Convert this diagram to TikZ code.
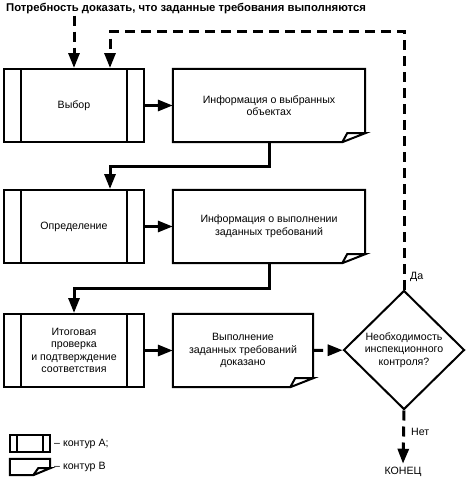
\documentclass[tikz,border=0pt]{standalone}
\usepackage{fontspec}
\setmainfont{Liberation Sans}
\usepackage{tikz}
\usetikzlibrary{positioning, arrows.meta}
\usetikzlibrary{shapes.geometric}

\tikzset{
  outl/.style={line width=2pt, line join=miter},
  conn/.style={line width=3pt, -{Triangle[length=15pt, width=11pt]}},
  dconn/.style={conn, dash pattern=on 10pt off 6pt},
  boxA/.style={draw, outl, minimum width=140pt, minimum height=73pt, inner sep=0pt, align=center,
    path picture={\draw[outl] ([xshift=#1]path picture bounding box.north west) -- ([xshift=#1]path picture bounding box.south west)
      ([xshift=-#1]path picture bounding box.north east) -- ([xshift=-#1]path picture bounding box.south east);}},
  boxA/.default=17pt,
  boxB/.style={minimum width=192pt, minimum height=73pt, inner sep=0pt, align=center},
  decide/.style={draw, outl, diamond, aspect=1, minimum width=121pt, minimum height=119pt, inner sep=0pt, align=center},
  lbl/.style={inner sep=1pt, anchor=west},
}

% outline of a box with a curled corner
\newcommand{\curlbox}[3]{%
  \draw[outl] ([yshift=#3]#1.south east) -- (#1.north east) -- (#1.north west) -- (#1.south west)
    -- ([xshift=-#2]#1.south east) -- ([yshift=#3]#1.south east)
    -- ([xshift=-#2+5pt, yshift=#3]#1.south east) -- ([xshift=-#2]#1.south east);}

\begin{document}
\begin{tikzpicture}[x=1pt, y=-1pt, font=\fontsize{10.6}{12.5}\selectfont]
  \useasboundingbox (0,0) rectangle (468,482);

  \node[lbl, font=\fontsize{11.3}{13}\selectfont\bfseries] (need) at (5,9) {Потребность доказать, что заданные требования выполняются};

  \node[boxA] (a1) at (74,105.5) {Выбор};
  \node[boxB] (i1) at (269,105.5) {Информация о выбранных\\объектах};
  \curlbox{i1}{23pt}{9pt}
  \node[boxA] (a2) at (74,226.5) {Определение};
  \node[boxB] (i2) at (269,226.5) {Информация о выполнении\\заданных требований};
  \curlbox{i2}{23pt}{9pt}
  \node[boxA] (a3) at (74,350.5) {Итоговая\\проверка\\и подтверждение\\соответствия};
  \node[boxB, minimum width=140pt] (i3) at (243,350.5) {Выполнение\\заданных требований\\доказано};
  \curlbox{i3}{23pt}{9pt}
  \node[decide] (dec) at (404,350) {Необходимость\\инспекционного\\контроля?};
  \node (end) at (403,472) {КОНЕЦ};
  \node[lbl] (yes) at (409,277) {Да};
  \node[lbl] (no) at (410,432) {Нет};
  \coordinate (fbtop) at (404,31);

  % legend
  \node[boxA=7pt, minimum width=40pt, minimum height=17pt] (legA) at (30,443.5) {};
  \node[lbl] (legAt) at (53,443.5) {– контур А;};
  \node[boxB, minimum width=40pt, minimum height=16pt] (legB) at (30,467) {};
  \curlbox{legB}{17pt}{7pt}
  \node[lbl] (legBt) at (53,467) {– контур В};

  \draw[dconn] (a1.north |- need.south) -- (a1.north);
  \draw[dconn] (dec.north) -- (fbtop) -| ([xshift=36pt]a1.north);
  \draw[conn] (a1) -- (i1);
  \draw[conn] (i1.south) -- ++(0,24) -| ([xshift=36pt]a2.north);
  \draw[conn] (a2) -- (i2);
  \draw[conn] (i2.south) -- ++(0,25) -| (a3.north);
  \draw[conn] (a3) -- (i3);
  \draw[dconn] (i3) -- (dec);
  \draw[dconn] (dec.south) -- (end.north);
\end{tikzpicture}
\end{document}
